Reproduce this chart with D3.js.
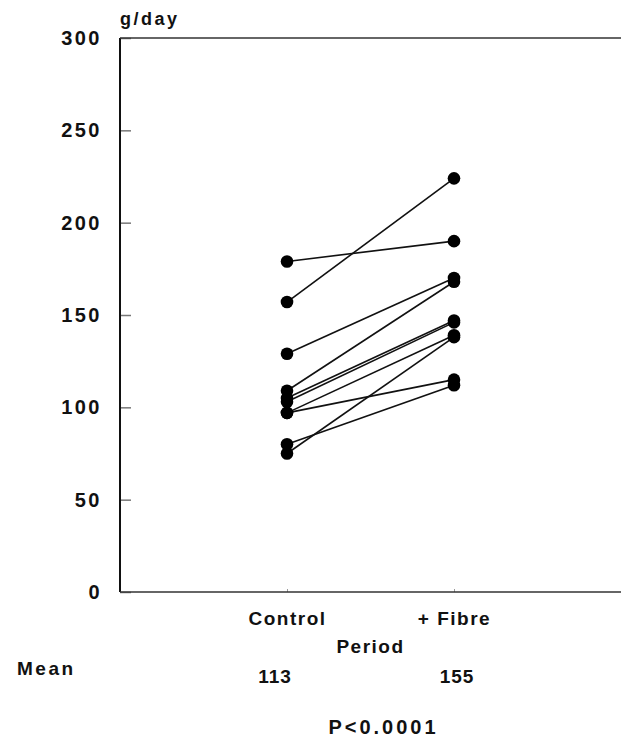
<!DOCTYPE html>
<html>
<head>
<meta charset="utf-8">
<script src="https://cdn.jsdelivr.net/npm/d3@7"></script>
<style>
  body { margin: 0; background: #fff; }
  svg text { font-family: "Liberation Sans", Arial, sans-serif; font-weight: bold; fill: #111; }
</style>
</head>
<body>
<div id="chart"></div>
<script>
// periods on the x axis
var periods = ["Control", "+ Fibre"];
// stool weight per subject (g/day), same order in both arrays
var controlValues = [179, 157, 129, 109, 105, 103, 97, 97, 80, 75];
var fibreValues   = [190, 224, 170, 168, 147, 146, 139, 115, 112, 138];
var yTicks = [0, 50, 100, 150, 200, 250, 300];
var means = ["113", "155"];

var svgWidth = 621;
var svgHeight = 738;

var margin = { top: 38, right: 0, bottom: 146, left: 120 };
var width = svgWidth - margin.left - margin.right;
var height = svgHeight - margin.top - margin.bottom;

var svg = d3.select("#chart")
  .append("svg").attr("width", svgWidth).attr("height", svgHeight);

var chartGroup = svg.append("g")
  .attr("transform", `translate(${margin.left}, ${margin.top})`);

var xScale = d3.scalePoint().domain(periods).range([0, width]).padding(1);
var yScale = d3.scaleLinear().domain([0, 300]).range([height, 0]);

// y axis, ticks point inward
var leftAxis = d3.axisLeft(yScale).tickValues(yTicks).tickSize(-11).tickPadding(18);
var yAxis = chartGroup.append("g").call(leftAxis);
yAxis.select(".domain").remove();
yAxis.selectAll(".tick line").attr("stroke", "#777").attr("stroke-width", 1.5);
yAxis.selectAll(".tick text")
  .style("font-size", "20px")
  .style("letter-spacing", "2.5px");

// x axis
var bottomAxis = d3.axisBottom(xScale).tickSize(-3).tickPadding(20);
var xAxis = chartGroup.append("g")
  .attr("transform", `translate(0, ${height})`)
  .call(bottomAxis);
xAxis.select(".domain").remove();
xAxis.selectAll(".tick line").attr("stroke", "#999");
xAxis.selectAll(".tick text")
  .style("font-size", "19px")
  .style("letter-spacing", "1.5px");

// frame: left, bottom, top lines
chartGroup.append("line").attr("x1", 0).attr("x2", 0).attr("y1", 0).attr("y2", height)
  .attr("stroke", "#111").attr("stroke-width", 2);
chartGroup.append("line").attr("x1", 0).attr("x2", width).attr("y1", height).attr("y2", height)
  .attr("stroke", "#333").attr("stroke-width", 1.5);
chartGroup.append("line").attr("x1", 0).attr("x2", width).attr("y1", 0).attr("y2", 0)
  .attr("stroke", "#333").attr("stroke-width", 1.3);

// paired lines
var pairs = controlValues.map((c, i) => ({ control: c, fibre: fibreValues[i] }));

chartGroup.selectAll(".pair")
  .data(pairs)
  .enter()
  .append("line")
  .attr("class", "pair")
  .attr("x1", xScale(periods[0]))
  .attr("x2", xScale(periods[1]))
  .attr("y1", d => yScale(d.control))
  .attr("y2", d => yScale(d.fibre))
  .attr("stroke", "#111")
  .attr("stroke-width", 1.6);

chartGroup.selectAll(".ctrl")
  .data(controlValues)
  .enter()
  .append("circle")
  .attr("class", "ctrl")
  .attr("cx", xScale(periods[0]))
  .attr("cy", d => yScale(d))
  .attr("r", 6.3)
  .attr("fill", "#000");

chartGroup.selectAll(".fib")
  .data(fibreValues)
  .enter()
  .append("circle")
  .attr("class", "fib")
  .attr("cx", xScale(periods[1]))
  .attr("cy", d => yScale(d))
  .attr("r", 6.3)
  .attr("fill", "#000");

// labels
svg.append("text")
  .attr("x", margin.left)
  .attr("y", 25)
  .style("font-size", "18px")
  .style("letter-spacing", "2.5px")
  .text("g/day");

var midX = margin.left + (xScale(periods[0]) + xScale(periods[1])) / 2;

svg.append("text")
  .attr("x", midX)
  .attr("y", 653)
  .attr("text-anchor", "middle")
  .style("font-size", "19px")
  .style("letter-spacing", "1.5px")
  .text("Period");

svg.append("text")
  .attr("x", 17)
  .attr("y", 675)
  .style("font-size", "19px")
  .style("letter-spacing", "2.5px")
  .text("Mean");

svg.selectAll(".mean")
  .data(means)
  .enter()
  .append("text")
  .attr("class", "mean")
  .attr("x", (d, i) => margin.left + xScale(periods[i]) + (i === 0 ? -12 : 3))
  .attr("y", 683)
  .attr("text-anchor", "middle")
  .style("font-size", "19px")
  .style("letter-spacing", "1px")
  .text(d => d);

svg.append("text")
  .attr("x", midX + 13)
  .attr("y", 734)
  .attr("text-anchor", "middle")
  .style("font-size", "20px")
  .style("letter-spacing", "3px")
  .text("P<0.0001");
</script>
</body>
</html>
